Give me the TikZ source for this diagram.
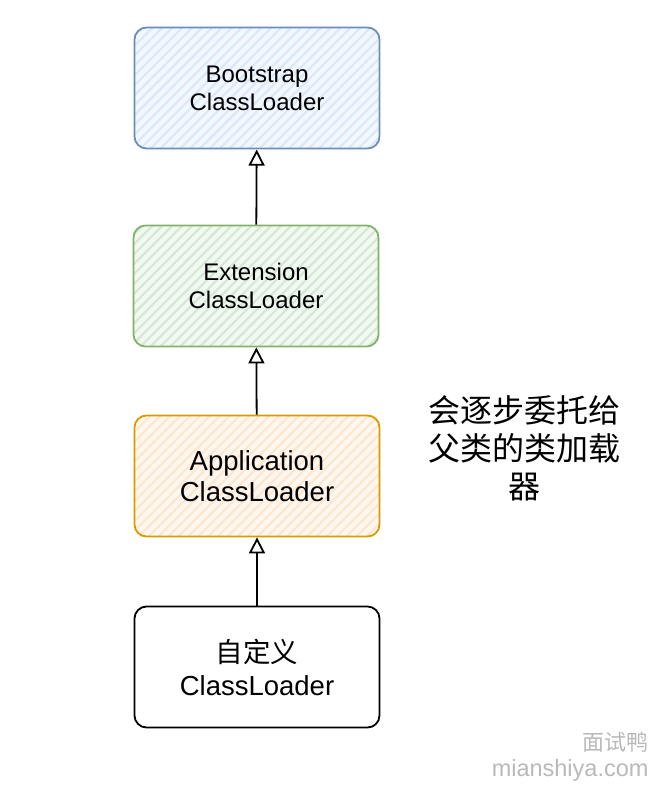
\documentclass[tikz,border=0pt]{standalone}
\usepackage{fontspec}
\setmainfont{Liberation Sans}
\newfontfamily\cjk{Noto Sans CJK SC}
\usetikzlibrary{positioning}
\usetikzlibrary{arrows.meta}
\usetikzlibrary{patterns.meta}
\definecolor{bootline}{HTML}{6C8EBF}
\definecolor{bootfill}{HTML}{DAE8FC}
\definecolor{extline}{HTML}{82B366}
\definecolor{extfill}{HTML}{D5E8D4}
\definecolor{appline}{HTML}{D79B00}
\definecolor{appfill}{HTML}{FFE6CC}

\begin{document}
\begin{tikzpicture}[x=1pt,y=-1pt,
  loader/.style={draw,line width=1.8pt,rounded corners=12pt,
    minimum width=245pt,minimum height=121pt,align=center},
  hatch/.style={preaction={fill=#1!30},
    pattern={Lines[angle=45,distance=7pt,line width=2.2pt]},pattern color=#1},
  up/.style={line width=1.8pt,-{Triangle[open,length=16pt,width=16pt]}}]
\useasboundingbox (0,0) rectangle (662,794);
\node [loader,hatch=bootfill,draw=bootline,font=\fontsize{24}{28}\selectfont] at (257,88) (boot) {Bootstrap\\ClassLoader};
\node [loader,hatch=extfill,draw=extline,font=\fontsize{24}{28}\selectfont] at (256,286) (ext) {Extension\\ClassLoader};
\node [loader,hatch=appfill,draw=appline,font=\fontsize{27.5}{31}\selectfont] at (257,476) (app) {Application\\ClassLoader};
\node [loader,fill=white,draw=black,font=\fontsize{27.5}{33}\selectfont] at (257,667) (custom) {{\cjk 自定义}\\ClassLoader};
\draw [up] (ext) -- (boot);
\draw [up] (app) -- (ext);
\draw [up] (custom) -- (app);
\node [align=center,font=\cjk\fontsize{32}{38}\selectfont] at (524,448) (note) {会逐步委托给\\父类的类加载\\器};
\node [anchor=east,text=gray!55,font=\cjk\fontsize{22}{24}\selectfont] at (652,742) (mark) {面试鸭};
\node [anchor=east,text=gray!55,font=\fontsize{23.5}{24}\selectfont] at (652,770) (site) {mianshiya.com};
\end{tikzpicture}
\end{document}
